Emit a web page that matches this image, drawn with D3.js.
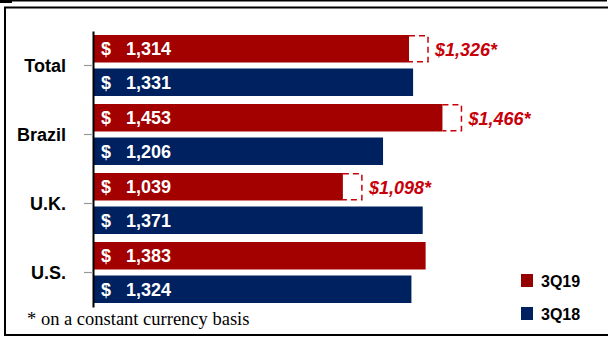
<!DOCTYPE html>
<html>
<head>
<meta charset="utf-8">
<script src="https://cdn.jsdelivr.net/npm/d3@7"></script>
<style>
  html, body { margin: 0; padding: 0; background: #fff; }
  svg { display: block; }
</style>
</head>
<body>
<svg id="chart" width="608" height="337"></svg>
<script>
// Average revenue per unit by market, 3Q19 vs 3Q18
const categories = ["Total", "Brazil", "U.K.", "U.S."];
const series = ["3Q19", "3Q18"];
const values3Q19 = [1314, 1453, 1039, 1383];
const values3Q18 = [1331, 1206, 1371, 1324];
// 3Q19 restated on a constant currency basis (none for U.S.)
const constant3Q19 = [1326, 1466, 1098, null];
const footnote = "* on a constant currency basis";

const colors = { "3Q19": "#a30000", "3Q18": "#00215f" };
const legendColors = { "3Q19": "#950000", "3Q18": "#00205f" };
const noteColor = "#c8000a";

const rows = categories.map((c, i) => ({
  category: c,
  "3Q19": values3Q19[i],
  "3Q18": values3Q18[i],
  constant: constant3Q19[i]
}));

const svg = d3.select("#chart");
const sans = "'Liberation Sans', Arial, sans-serif";

// frame
svg.append("line").attr("x1", 0).attr("x2", 607).attr("y1", 0.75).attr("y2", 0.75)
  .attr("stroke", "#000").attr("stroke-width", 1.5);
svg.append("rect").attr("x", 0).attr("y", 0).attr("width", 12).attr("height", 3).attr("fill", "#000");
svg.append("rect").attr("x", 5).attr("y", 7.5).attr("width", 610).attr("height", 327.5)
  .attr("fill", "none").attr("stroke", "#000").attr("stroke-width", 2);

// scales
const y = d3.scaleBand().domain(categories).range([31, 307]).paddingInner(0).paddingOuter(0);
const ySub = d3.scaleBand().domain(series).range([4, 65]).paddingInner(0.179);
const x = d3.scaleLinear().domain([0, 1500]).range([93, 93 + 1500 * 0.2405]);

// bars
const groups = svg.append("g").selectAll("g").data(rows).join("g")
  .attr("transform", d => `translate(0,${y(d.category)})`);

groups.selectAll("rect.bar")
  .data(d => series.map(s => ({ s, v: d[s] })))
  .join("rect").attr("class", "bar")
  .attr("x", x(0))
  .attr("y", d => ySub(d.s))
  .attr("width", d => x(d.v) - x(0))
  .attr("height", ySub.bandwidth())
  .attr("fill", d => colors[d.s]);

// value labels inside bars
const fmt = d3.format(",");
groups.selectAll("text.dollar")
  .data(d => series.map(s => ({ s, v: d[s] })))
  .join("text").attr("class", "dollar")
  .attr("x", 101)
  .attr("y", d => ySub(d.s) + ySub.bandwidth() / 2 + 6.5)
  .attr("fill", "#fff").attr("font-family", sans).attr("font-weight", "bold").attr("font-size", 18)
  .text("$");
groups.selectAll("text.val")
  .data(d => series.map(s => ({ s, v: d[s] })))
  .join("text").attr("class", "val")
  .attr("x", 126)
  .attr("y", d => ySub(d.s) + ySub.bandwidth() / 2 + 6.5)
  .attr("fill", "#fff").attr("font-family", sans).attr("font-weight", "bold").attr("font-size", 18)
  .text(d => fmt(d.v));

// constant currency brackets
const bracketW = 19;
const withConst = groups.filter(d => d.constant != null);
withConst.append("path")
  .attr("d", d => {
    const x0 = x(d["3Q19"]), y0 = ySub("3Q19") + 0.75, y1 = ySub("3Q19") + ySub.bandwidth() - 0.75;
    return `M${x0},${y0}H${x0 + bracketW}V${y1}H${x0}`;
  })
  .attr("fill", "none").attr("stroke", noteColor).attr("stroke-width", 1.5)
  .attr("stroke-dasharray", "6,4");
withConst.append("text")
  .attr("x", d => x(d["3Q19"]) + bracketW + 7)
  .attr("y", ySub("3Q19") + ySub.bandwidth() / 2 + 7)
  .attr("fill", noteColor).attr("font-family", sans).attr("font-weight", "bold")
  .attr("font-style", "italic").attr("font-size", 18)
  .text(d => "$" + fmt(d.constant) + "*");

// category axis
const axis = svg.append("g").attr("transform", `translate(${x(0)},0)`)
  .call(d3.axisLeft(y).tickSize(9).tickSizeOuter(0).tickPadding(18));
axis.select(".domain").attr("stroke", "#000").attr("stroke-width", 2);
axis.selectAll(".tick line").attr("stroke", "#999").attr("stroke-width", 1.2);
axis.selectAll(".tick text").attr("font-family", sans).attr("font-weight", "bold")
  .attr("font-size", 18).attr("fill", "#000").attr("dy", "0.36em");

// legend
const legend = svg.append("g").selectAll("g").data(series).join("g")
  .attr("transform", (d, i) => `translate(521,${274 + i * 33})`);
legend.append("rect").attr("width", 12).attr("height", 13).attr("fill", d => legendColors[d]);
legend.append("text").attr("x", 20).attr("y", 13)
  .attr("font-family", sans).attr("font-weight", "bold").attr("font-size", 16).attr("fill", "#000")
  .text(d => d);

// footnote
svg.append("text").attr("x", 27).attr("y", 325)
  .attr("font-family", "'Liberation Serif', 'Times New Roman', serif").attr("font-size", 18.5)
  .attr("fill", "#000").text(footnote);
</script>
</body>
</html>
